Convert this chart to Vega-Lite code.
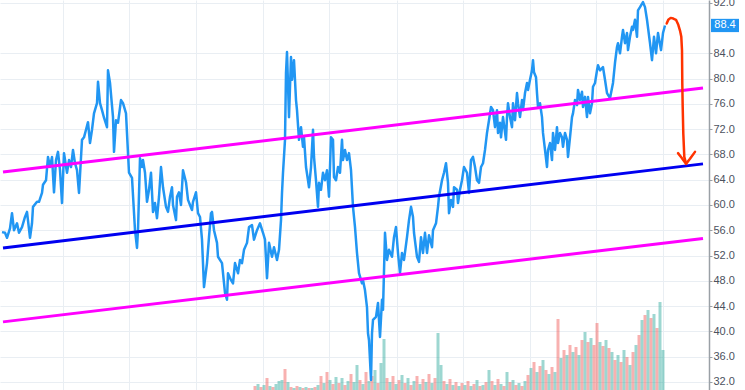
{
  "$schema": "https://vega.github.io/schema/vega-lite/v6.json",
  "width": 709,
  "height": 390,
  "autosize": {"type": "none"},
  "padding": {"left": 0, "top": 0, "right": 36, "bottom": 0},
  "background": "white",
  "config": {"view": {"stroke": null}, "font": "Liberation Sans", "scale": {"continuousPadding": 0}, "axis": {"labelOverlap": false}},
  "datasets": {
    "price": [
      {"t":2,"p":55.7},{"t":5,"p":55.6},{"t":7,"p":54.8},{"t":10,"p":56.3},{"t":12,"p":58.7},{"t":14,"p":56.0},{"t":17,"p":57.1},{"t":19,"p":55.6},{"t":22,"p":56.5},{"t":25,"p":58.1},{"t":27,"p":58.9},{"t":30,"p":54.8},{"t":32,"p":57.1},{"t":33,"p":59.7},{"t":37,"p":60.5},{"t":39,"p":60.5},{"t":42,"p":61.9},{"t":43,"p":63.2},{"t":46,"p":63.9},{"t":48,"p":67.6},{"t":50,"p":66.0},{"t":52,"p":67.6},{"t":54,"p":62.0},{"t":56,"p":67.1},{"t":58,"p":68.4},{"t":60,"p":65.5},{"t":62,"p":60.3},{"t":64,"p":68.2},{"t":67,"p":65.1},{"t":69,"p":67.1},{"t":71,"p":66.0},{"t":73,"p":68.7},{"t":75,"p":66.6},{"t":77,"p":65.5},{"t":79,"p":61.9},{"t":82,"p":70.3},{"t":84,"p":70.7},{"t":86,"p":71.9},{"t":88,"p":73.1},{"t":90,"p":69.8},{"t":92,"p":71.9},{"t":94,"p":74.5},{"t":97,"p":76.1},{"t":98,"p":79.5},{"t":100,"p":76.1},{"t":102,"p":75.0},{"t":104,"p":73.8},{"t":107,"p":72.3},{"t":108,"p":81.3},{"t":110,"p":79.3},{"t":113,"p":73.9},{"t":114,"p":68.4},{"t":116,"p":73.4},{"t":118,"p":73.0},{"t":121,"p":76.6},{"t":123,"p":76.1},{"t":126,"p":74.5},{"t":128,"p":68.2},{"t":129,"p":65.1},{"t":132,"p":64.3},{"t":135,"p":56.0},{"t":137,"p":53.2},{"t":138,"p":56.0},{"t":140,"p":67.4},{"t":142,"p":66.0},{"t":143,"p":67.1},{"t":145,"p":65.1},{"t":147,"p":60.5},{"t":149,"p":62.4},{"t":151,"p":65.1},{"t":153,"p":58.9},{"t":155,"p":60.3},{"t":157,"p":57.9},{"t":159,"p":61.3},{"t":161,"p":66.0},{"t":163,"p":62.8},{"t":166,"p":59.7},{"t":168,"p":58.9},{"t":170,"p":61.3},{"t":172,"p":62.8},{"t":173,"p":60.0},{"t":176,"p":57.6},{"t":177,"p":61.3},{"t":179,"p":62.0},{"t":181,"p":60.0},{"t":183,"p":65.5},{"t":186,"p":63.6},{"t":188,"p":60.8},{"t":190,"p":60.0},{"t":192,"p":59.2},{"t":193,"p":60.5},{"t":196,"p":62.0},{"t":198,"p":58.7},{"t":200,"p":58.1},{"t":202,"p":54.5},{"t":204,"p":47.0},{"t":207,"p":50.8},{"t":209,"p":54.9},{"t":211,"p":58.7},{"t":212,"p":58.9},{"t":214,"p":56.0},{"t":217,"p":54.0},{"t":218,"p":51.8},{"t":222,"p":50.8},{"t":225,"p":46.1},{"t":227,"p":45.0},{"t":228,"p":49.2},{"t":231,"p":48.1},{"t":233,"p":47.6},{"t":235,"p":50.8},{"t":238,"p":49.2},{"t":240,"p":51.3},{"t":242,"p":50.8},{"t":244,"p":52.9},{"t":247,"p":54.0},{"t":249,"p":56.5},{"t":252,"p":56.8},{"t":254,"p":54.5},{"t":257,"p":56.0},{"t":260,"p":57.1},{"t":263,"p":55.6},{"t":265,"p":54.5},{"t":267,"p":48.4},{"t":269,"p":54.0},{"t":272,"p":51.8},{"t":274,"p":53.3},{"t":277,"p":51.3},{"t":279,"p":52.9},{"t":281,"p":57.6},{"t":282,"p":61.9},{"t":283,"p":65.1},{"t":285,"p":70.3},{"t":286,"p":80.9},{"t":287,"p":84.2},{"t":289,"p":73.9},{"t":291,"p":83.4},{"t":292,"p":79.8},{"t":294,"p":82.9},{"t":296,"p":76.6},{"t":297,"p":75.0},{"t":299,"p":70.3},{"t":301,"p":72.3},{"t":303,"p":69.2},{"t":304,"p":70.7},{"t":306,"p":66.0},{"t":308,"p":63.9},{"t":309,"p":62.8},{"t":311,"p":66.0},{"t":313,"p":71.9},{"t":314,"p":67.6},{"t":316,"p":63.9},{"t":318,"p":59.7},{"t":319,"p":63.5},{"t":321,"p":62.4},{"t":323,"p":65.1},{"t":325,"p":63.9},{"t":327,"p":65.5},{"t":329,"p":61.3},{"t":331,"p":70.7},{"t":333,"p":70.3},{"t":334,"p":64.4},{"t":336,"p":63.9},{"t":338,"p":66.0},{"t":340,"p":65.1},{"t":342,"p":70.3},{"t":343,"p":67.1},{"t":345,"p":68.7},{"t":347,"p":67.1},{"t":349,"p":68.2},{"t":351,"p":65.5},{"t":353,"p":59.7},{"t":355,"p":56.5},{"t":357,"p":52.4},{"t":359,"p":49.2},{"t":362,"p":47.6},{"t":363,"p":48.1},{"t":365,"p":46.5},{"t":367,"p":43.8},{"t":368,"p":39.7},{"t":369,"p":38.6},{"t":371,"p":32.3},{"t":372,"p":39.7},{"t":373,"p":41.8},{"t":376,"p":42.3},{"t":378,"p":44.5},{"t":380,"p":39.1},{"t":382,"p":45.0},{"t":383,"p":43.4},{"t":385,"p":55.6},{"t":387,"p":51.3},{"t":389,"p":52.9},{"t":392,"p":51.8},{"t":394,"p":54.9},{"t":396,"p":56.5},{"t":398,"p":52.4},{"t":400,"p":49.2},{"t":402,"p":52.4},{"t":404,"p":51.3},{"t":407,"p":54.9},{"t":409,"p":57.6},{"t":411,"p":59.7},{"t":413,"p":58.1},{"t":414,"p":55.6},{"t":417,"p":51.8},{"t":419,"p":51.0},{"t":421,"p":54.9},{"t":423,"p":52.4},{"t":425,"p":55.6},{"t":427,"p":52.4},{"t":429,"p":55.2},{"t":432,"p":53.3},{"t":433,"p":56.0},{"t":436,"p":57.1},{"t":438,"p":59.7},{"t":439,"p":61.3},{"t":442,"p":63.9},{"t":444,"p":65.1},{"t":446,"p":66.6},{"t":448,"p":63.5},{"t":449,"p":58.7},{"t":451,"p":60.8},{"t":453,"p":59.7},{"t":454,"p":62.8},{"t":457,"p":62.4},{"t":458,"p":60.3},{"t":460,"p":62.4},{"t":462,"p":63.9},{"t":464,"p":66.0},{"t":467,"p":65.1},{"t":469,"p":61.9},{"t":471,"p":67.1},{"t":473,"p":67.6},{"t":475,"p":66.0},{"t":477,"p":63.9},{"t":479,"p":63.5},{"t":481,"p":66.0},{"t":483,"p":66.6},{"t":485,"p":68.7},{"t":487,"p":71.4},{"t":489,"p":73.4},{"t":491,"p":75.5},{"t":493,"p":75.0},{"t":495,"p":72.3},{"t":497,"p":75.0},{"t":498,"p":71.4},{"t":500,"p":73.0},{"t":501,"p":70.7},{"t":503,"p":73.9},{"t":506,"p":70.3},{"t":507,"p":73.9},{"t":508,"p":76.1},{"t":510,"p":73.9},{"t":512,"p":72.3},{"t":513,"p":76.1},{"t":515,"p":73.4},{"t":517,"p":77.7},{"t":518,"p":76.1},{"t":520,"p":73.9},{"t":522,"p":76.6},{"t":523,"p":75.0},{"t":525,"p":77.7},{"t":527,"p":79.3},{"t":528,"p":78.2},{"t":530,"p":79.8},{"t":532,"p":81.3},{"t":533,"p":82.9},{"t":534,"p":81.0},{"t":536,"p":80.2},{"t":537,"p":77.7},{"t":538,"p":75.5},{"t":540,"p":76.1},{"t":542,"p":73.9},{"t":543,"p":71.4},{"t":545,"p":68.7},{"t":547,"p":66.0},{"t":548,"p":68.7},{"t":550,"p":69.8},{"t":552,"p":67.1},{"t":553,"p":71.4},{"t":555,"p":68.7},{"t":557,"p":72.3},{"t":558,"p":69.8},{"t":560,"p":71.4},{"t":562,"p":70.7},{"t":563,"p":69.2},{"t":565,"p":71.4},{"t":567,"p":70.3},{"t":568,"p":67.6},{"t":570,"p":70.7},{"t":572,"p":73.9},{"t":573,"p":74.5},{"t":575,"p":76.6},{"t":577,"p":75.8},{"t":578,"p":78.2},{"t":580,"p":76.6},{"t":582,"p":77.9},{"t":583,"p":75.5},{"t":585,"p":77.1},{"t":587,"p":73.9},{"t":588,"p":77.1},{"t":590,"p":74.5},{"t":592,"p":76.1},{"t":593,"p":78.7},{"t":595,"p":79.3},{"t":597,"p":81.3},{"t":598,"p":82.1},{"t":600,"p":81.3},{"t":603,"p":81.8},{"t":605,"p":79.8},{"t":607,"p":77.7},{"t":610,"p":76.9},{"t":613,"p":79.3},{"t":615,"p":82.5},{"t":617,"p":85.0},{"t":618,"p":85.6},{"t":620,"p":84.0},{"t":622,"p":86.6},{"t":623,"p":87.7},{"t":625,"p":85.6},{"t":627,"p":87.2},{"t":628,"p":84.5},{"t":630,"p":86.6},{"t":632,"p":88.2},{"t":633,"p":87.7},{"t":635,"p":89.3},{"t":637,"p":86.6},{"t":638,"p":90.8},{"t":640,"p":91.3},{"t":643,"p":92.1},{"t":645,"p":91.3},{"t":647,"p":89.3},{"t":650,"p":85.6},{"t":652,"p":82.9},{"t":654,"p":86.6},{"t":656,"p":84.0},{"t":658,"p":87.2},{"t":661,"p":84.5},{"t":663,"p":87.2},{"t":665,"p":88.4}
    ],
    "trend": [
      {"line":"upper","t":3,"p":65.2},{"line":"upper","t":703,"p":78.5},
      {"line":"middle","t":3,"p":53.2},{"line":"middle","t":703,"p":66.5},
      {"line":"lower","t":3,"p":41.5},{"line":"lower","t":703,"p":54.7}
    ],
    "arrow": [
      {"seg":"shaft","o":1,"t":666.7,"p":88.7},{"seg":"shaft","o":2,"t":668.3,"p":89.3},{"seg":"shaft","o":3,"t":670.7,"p":89.6},{"seg":"shaft","o":4,"t":673.3,"p":89.5},{"seg":"shaft","o":5,"t":676,"p":89.3},{"seg":"shaft","o":6,"t":678.3,"p":88.5},{"seg":"shaft","o":7,"t":680,"p":87.6},{"seg":"shaft","o":8,"t":681.3,"p":86.6},{"seg":"shaft","o":9,"t":682,"p":84.5},{"seg":"shaft","o":10,"t":682.3,"p":79.2},{"seg":"shaft","o":11,"t":682.7,"p":75.5},{"seg":"shaft","o":12,"t":683.3,"p":71.3},{"seg":"shaft","o":13,"t":684.3,"p":67.6},{"seg":"shaft","o":14,"t":686,"p":66.6},
      {"seg":"head","o":1,"t":678,"p":68.2},{"seg":"head","o":2,"t":682,"p":67.4},{"seg":"head","o":3,"t":686,"p":66.5},{"seg":"head","o":4,"t":690,"p":67.3},{"seg":"head","o":5,"t":695,"p":68.4}
    ],
    "last": [{"t":725,"t1":711,"t2":739,"p":88.4,"p1":89.45,"p2":87.35,"txt":"88.4"}],
    "vol": [
      {"t":255,"v":4,"d":"down"},{"t":258,"v":6,"d":"up"},{"t":261,"v":3,"d":"down"},{"t":264,"v":5,"d":"up"},{"t":267,"v":12,"d":"down"},{"t":270,"v":4,"d":"up"},{"t":273,"v":3,"d":"down"},{"t":276,"v":6,"d":"up"},{"t":279,"v":9,"d":"up"},{"t":282,"v":10,"d":"up"},{"t":285,"v":21,"d":"down"},{"t":288,"v":8,"d":"up"},{"t":291,"v":3,"d":"down"},{"t":294,"v":2,"d":"up"},{"t":297,"v":4,"d":"down"},{"t":300,"v":3,"d":"up"},{"t":303,"v":2,"d":"down"},{"t":306,"v":3,"d":"up"},{"t":309,"v":2,"d":"down"},{"t":312,"v":2,"d":"up"},{"t":315,"v":3,"d":"down"},{"t":318,"v":5,"d":"up"},{"t":321,"v":14,"d":"down"},{"t":324,"v":7,"d":"up"},{"t":327,"v":18,"d":"down"},{"t":330,"v":10,"d":"up"},{"t":333,"v":6,"d":"down"},{"t":336,"v":13,"d":"up"},{"t":339,"v":7,"d":"down"},{"t":342,"v":12,"d":"up"},{"t":345,"v":5,"d":"down"},{"t":348,"v":9,"d":"up"},{"t":351,"v":16,"d":"down"},{"t":354,"v":8,"d":"up"},{"t":357,"v":25,"d":"up"},{"t":360,"v":10,"d":"down"},{"t":363,"v":6,"d":"up"},{"t":366,"v":18,"d":"down"},{"t":369,"v":9,"d":"up"},{"t":372,"v":14,"d":"down"},{"t":375,"v":20,"d":"up"},{"t":378,"v":7,"d":"down"},{"t":381,"v":27,"d":"up"},{"t":384,"v":51,"d":"up"},{"t":387,"v":12,"d":"down"},{"t":390,"v":8,"d":"up"},{"t":393,"v":14,"d":"down"},{"t":396,"v":6,"d":"up"},{"t":399,"v":10,"d":"down"},{"t":402,"v":15,"d":"up"},{"t":405,"v":7,"d":"down"},{"t":408,"v":12,"d":"up"},{"t":411,"v":5,"d":"down"},{"t":414,"v":9,"d":"up"},{"t":417,"v":14,"d":"down"},{"t":420,"v":6,"d":"up"},{"t":423,"v":11,"d":"down"},{"t":426,"v":8,"d":"up"},{"t":429,"v":16,"d":"down"},{"t":432,"v":7,"d":"up"},{"t":435,"v":12,"d":"down"},{"t":438,"v":57,"d":"up"},{"t":441,"v":25,"d":"up"},{"t":444,"v":9,"d":"down"},{"t":447,"v":6,"d":"up"},{"t":450,"v":11,"d":"down"},{"t":453,"v":5,"d":"up"},{"t":456,"v":8,"d":"down"},{"t":459,"v":4,"d":"up"},{"t":462,"v":7,"d":"down"},{"t":465,"v":5,"d":"up"},{"t":468,"v":9,"d":"down"},{"t":471,"v":4,"d":"up"},{"t":474,"v":6,"d":"down"},{"t":477,"v":10,"d":"up"},{"t":480,"v":4,"d":"down"},{"t":483,"v":5,"d":"up"},{"t":486,"v":8,"d":"down"},{"t":489,"v":20,"d":"up"},{"t":492,"v":9,"d":"down"},{"t":495,"v":5,"d":"up"},{"t":498,"v":11,"d":"down"},{"t":501,"v":6,"d":"up"},{"t":504,"v":4,"d":"down"},{"t":507,"v":18,"d":"up"},{"t":510,"v":8,"d":"down"},{"t":513,"v":10,"d":"up"},{"t":516,"v":5,"d":"down"},{"t":519,"v":7,"d":"up"},{"t":522,"v":4,"d":"down"},{"t":525,"v":9,"d":"up"},{"t":528,"v":15,"d":"down"},{"t":531,"v":22,"d":"up"},{"t":534,"v":28,"d":"down"},{"t":537,"v":18,"d":"up"},{"t":540,"v":24,"d":"down"},{"t":543,"v":30,"d":"up"},{"t":546,"v":20,"d":"down"},{"t":549,"v":16,"d":"up"},{"t":552,"v":23,"d":"down"},{"t":555,"v":18,"d":"up"},{"t":558,"v":71,"d":"down"},{"t":561,"v":32,"d":"up"},{"t":564,"v":40,"d":"down"},{"t":567,"v":35,"d":"up"},{"t":570,"v":45,"d":"down"},{"t":573,"v":38,"d":"up"},{"t":576,"v":43,"d":"down"},{"t":579,"v":35,"d":"up"},{"t":582,"v":50,"d":"down"},{"t":585,"v":58,"d":"up"},{"t":588,"v":48,"d":"down"},{"t":591,"v":52,"d":"up"},{"t":594,"v":45,"d":"down"},{"t":597,"v":67,"d":"down"},{"t":600,"v":48,"d":"up"},{"t":603,"v":44,"d":"down"},{"t":606,"v":50,"d":"up"},{"t":609,"v":42,"d":"down"},{"t":612,"v":38,"d":"up"},{"t":615,"v":30,"d":"down"},{"t":618,"v":35,"d":"up"},{"t":621,"v":28,"d":"down"},{"t":624,"v":40,"d":"up"},{"t":627,"v":33,"d":"down"},{"t":630,"v":25,"d":"up"},{"t":633,"v":38,"d":"down"},{"t":636,"v":45,"d":"up"},{"t":639,"v":55,"d":"down"},{"t":642,"v":70,"d":"up"},{"t":645,"v":75,"d":"down"},{"t":648,"v":80,"d":"up"},{"t":651,"v":72,"d":"down"},{"t":654,"v":76,"d":"up"},{"t":657,"v":62,"d":"down"},{"t":660,"v":88,"d":"up"},{"t":663,"v":40,"d":"up"}
    ]
  },
  "layer": [
    {
      "data": {"name": "vol"},
      "mark": {"type": "bar", "width": 3, "opacity": 0.45},
      "encoding": {
        "x": {"field": "t", "type": "quantitative", "scale": {"domain": [0, 709], "nice": false, "zero": false, "padding": 0}, "axis": {"title": null}},
        "y": {"field": "v", "type": "quantitative", "scale": {"domain": [0, 390]}, "axis": null},
        "color": {"field": "d", "type": "nominal", "scale": {"domain": ["up", "down"], "range": ["#26a69a", "#ef5350"]}, "legend": null}
      }
    },
    {
      "layer": [
        {
          "data": {"name": "price"},
          "mark": {"type": "line", "color": "#2196f3", "strokeWidth": 2.5, "strokeJoin": "round"},
          "encoding": {
            "x": {"field": "t", "type": "quantitative", "scale": {"domain": [0, 709], "nice": false, "zero": false, "padding": 0},
              "axis": {"title": null, "values": [63, 129, 196, 263, 329, 397, 463, 530, 596, 663], "tickCount": 30, "grid": true, "gridColor": "#e9eef3", "labels": false, "ticks": false, "domain": false}},
            "y": {"field": "p", "type": "quantitative", "scale": {"domain": [30.72, 92.43], "nice": false, "zero": false},
              "axis": {"title": null, "orient": "right", "values": [32, 36, 40, 44, 48, 52, 56, 60, 64, 68, 72, 76, 80, 84, 92], "tickCount": 30, "format": ".1f", "labelOverlap": false, "grid": true, "gridColor": "#e9eef3", "domainColor": "#9aa0a6", "domainWidth": 1.5, "tickColor": "#9aa0a6", "tickSize": 3, "labelColor": "#4c525e", "labelFontSize": 11, "labelPadding": 1, "labelFont": "Liberation Sans"}}
          }
        },
        {
          "data": {"name": "trend"},
          "mark": {"type": "line", "strokeWidth": 3},
          "encoding": {
            "x": {"field": "t", "type": "quantitative", "axis": {"title": null}},
            "y": {"field": "p", "type": "quantitative", "axis": {"title": null}},
            "color": {"field": "line", "type": "nominal", "scale": {"domain": ["upper", "middle", "lower"], "range": ["#ff00ff", "#0000f0", "#ff00ff"]}, "legend": null}
          }
        },
        {
          "mark": {"type": "rule", "color": "#5aaaf0", "strokeWidth": 1, "strokeDash": [1, 2]},
          "encoding": {"y": {"datum": 88.4, "type": "quantitative", "axis": {"title": null}}}
        },
        {
          "data": {"name": "arrow"},
          "mark": {"type": "line", "color": "#ff3300", "strokeWidth": 2.5, "strokeCap": "round", "strokeJoin": "round"},
          "encoding": {
            "x": {"field": "t", "type": "quantitative", "axis": {"title": null}},
            "y": {"field": "p", "type": "quantitative", "axis": {"title": null}},
            "detail": {"field": "seg"},
            "order": {"field": "o"}
          }
        },
        {
          "mark": {"type": "rule", "color": "#b4b4b4", "strokeWidth": 2},
          "encoding": {"x": {"datum": 0, "type": "quantitative", "axis": {"title": null}}}
        },
        {
          "data": {"name": "last"},
          "mark": {"type": "rect", "color": "#2196f3"},
          "encoding": {
            "x": {"field": "t1", "type": "quantitative", "axis": {"title": null}},
            "x2": {"field": "t2"},
            "y": {"field": "p1", "type": "quantitative", "axis": {"title": null}},
            "y2": {"field": "p2"}
          }
        },
        {
          "data": {"name": "last"},
          "mark": {"type": "text", "color": "white", "fontSize": 11, "align": "center", "baseline": "middle", "font": "Liberation Sans"},
          "encoding": {
            "x": {"field": "t", "type": "quantitative", "axis": {"title": null}},
            "y": {"field": "p", "type": "quantitative", "axis": {"title": null}},
            "text": {"field": "txt"}
          }
        }
      ]
    }
  ],
  "resolve": {"scale": {"y": "independent", "color": "independent"}}
}
